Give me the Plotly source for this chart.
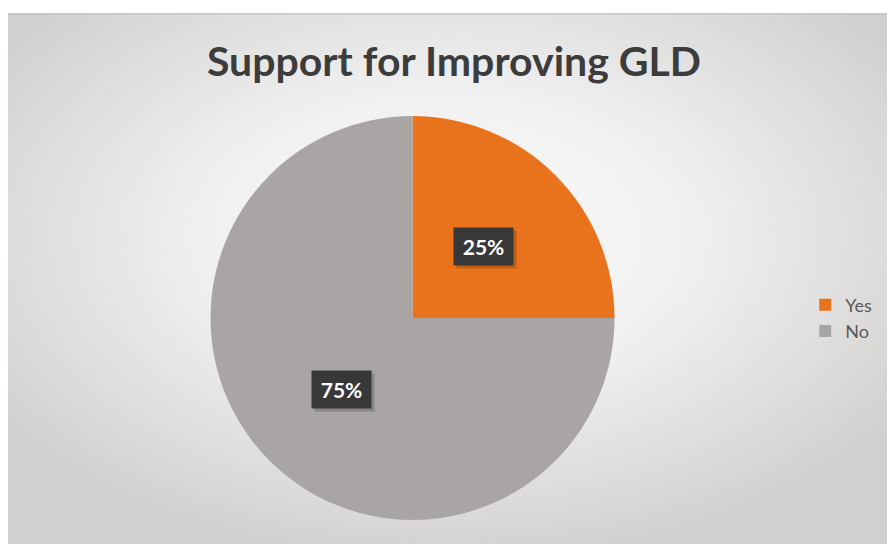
import base64
import math
import plotly.graph_objects as go

# Survey responses
labels = ["Yes", "No"]
shares = [25, 75]
colors = ["#E9731C", "#A8A5A4"]

W, H = 887, 544

# Soft radial gradient used as the chart-area backdrop
svg_bg = """<svg xmlns='http://www.w3.org/2000/svg' width='879' height='531' viewBox='0 0 879 531' preserveAspectRatio='none'>
<defs><radialGradient id='g' cx='0.5' cy='0.42' r='0.62'>
<stop offset='0' stop-color='#fbfbfb'/>
<stop offset='0.45' stop-color='#f0f0f0'/>
<stop offset='1' stop-color='#d2d0cf'/>
</radialGradient></defs>
<rect width='879' height='531' fill='url(#g)'/>
<rect width='879' height='1.5' fill='#c6c6c6'/>
</svg>"""
bg_uri = "data:image/svg+xml;base64," + base64.b64encode(svg_bg.encode()).decode()

# Pie placement (pixels)
cx, cy, r = 412.5, 318, 202

fig = go.Figure(
    go.Pie(
        labels=labels,
        values=shares,
        marker=dict(colors=colors, line=dict(width=0)),
        sort=False,
        direction="clockwise",
        rotation=0,
        textinfo="none",
        hoverinfo="label+percent",
        domain=dict(x=[(cx - r) / W, (cx + r) / W], y=[(H - cy - r) / H, (H - cy + r) / H]),
    )
)

# Percentage badges at the middle of each slice, half the radius out
annotations = []
total = sum(shares)
start = 90.0
for lab, v in zip(labels, shares):
    sweep = 360.0 * v / total
    mid = math.radians(start - sweep / 2)
    start -= sweep
    px = cx + 0.5 * r * math.cos(mid)
    py = cy - 0.5 * r * math.sin(mid)
    pct = f"{round(100 * v / total)}%"
    # drop shadow
    annotations.append(dict(
        x=(px + 3) / W, y=(H - py - 3) / H, xref="paper", yref="paper",
        text="", showarrow=False, width=57, height=35,
        bgcolor="rgba(0,0,0,0.18)", xanchor="center", yanchor="middle",
    ))
    annotations.append(dict(
        x=px / W, y=(H - py) / H, xref="paper", yref="paper",
        text=f"<b>{pct}</b>", showarrow=False, width=57, height=35,
        bgcolor="#383838", font=dict(family="Lato", size=21, color="white"),
        xanchor="center", yanchor="middle",
    ))

fig.update_layout(
    width=W,
    height=H,
    margin=dict(l=0, r=0, t=0, b=0),
    paper_bgcolor="white",
    plot_bgcolor="rgba(0,0,0,0)",
    title=dict(
        text="<b>Support for Improving GLD</b>",
        x=454 / W, xanchor="center",
        y=(H - 62) / H, yanchor="middle",
        font=dict(family="Lato", size=41, color="#3c3c3c"),
    ),
    legend=dict(
        x=0.989, xanchor="right",
        y=(H - 318) / H, yanchor="middle",
        font=dict(family="Lato", size=18, color="#595959"),
        bgcolor="rgba(0,0,0,0)",
        itemclick=False,
    ),
    images=[dict(
        source=bg_uri, xref="paper", yref="paper",
        x=8 / W, y=(H - 13) / H, sizex=879 / W, sizey=531 / H,
        xanchor="left", yanchor="top", sizing="stretch", layer="below",
    )],
    annotations=annotations,
)

fig.write_html("out.html")
